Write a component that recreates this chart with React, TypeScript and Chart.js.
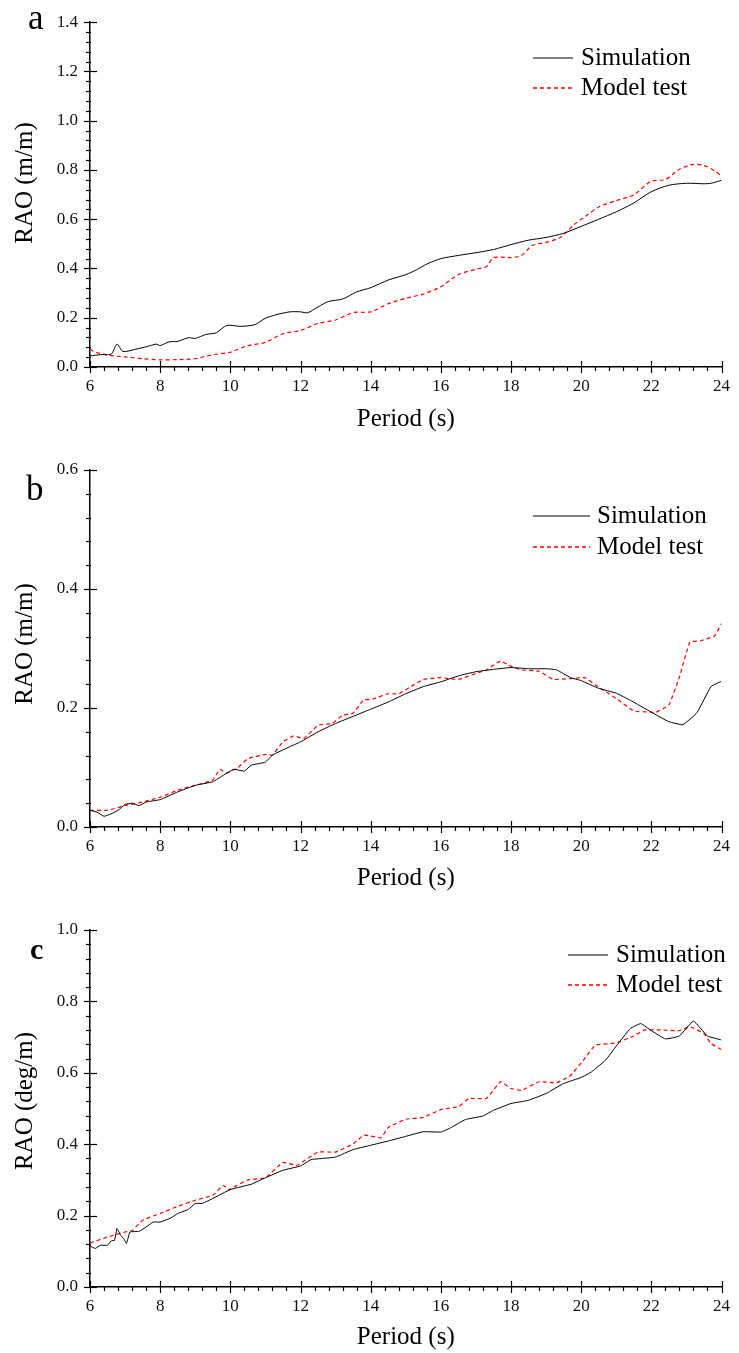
import React, { useEffect, useRef } from 'react';
import { Chart, registerables } from 'chart.js';

Chart.register(...registerables);

const FONT = '"Liberation Serif", "Times New Roman", serif';

// ---------- Panel a : RAO (m/m) ----------
const aSimPeriod = [6, 6.3, 6.5, 6.62, 6.77, 6.94, 7.3, 7.63, 7.88, 8.0, 8.25, 8.5, 8.8, 9.0, 9.3, 9.6, 9.9, 10.3, 10.7, 11.0, 11.3, 11.7, 12.0, 12.2, 12.5, 12.8, 13.2, 13.6, 14.0, 14.5, 15.0, 15.3, 15.6, 16.0, 16.5, 17.0, 17.5, 18.0, 18.5, 19.0, 19.5, 20.0, 20.5, 21.0, 21.5, 22.0, 22.5, 23.0, 23.5, 23.7, 24.0];
const aSimRAO = [0.045, 0.05, 0.05, 0.054, 0.093, 0.063, 0.072, 0.083, 0.093, 0.087, 0.102, 0.104, 0.119, 0.116, 0.132, 0.139, 0.169, 0.165, 0.172, 0.198, 0.212, 0.224, 0.224, 0.22, 0.244, 0.266, 0.276, 0.305, 0.322, 0.353, 0.375, 0.394, 0.418, 0.44, 0.453, 0.464, 0.477, 0.497, 0.515, 0.526, 0.543, 0.571, 0.6, 0.63, 0.666, 0.712, 0.738, 0.746, 0.744, 0.746, 0.758];
const aTestPeriod = [6, 6.1, 6.3, 6.66, 7.0, 7.5, 8.0, 8.5, 9.0, 9.5, 10.0, 10.5, 11.0, 11.5, 12.0, 12.5, 13.0, 13.5, 14.0, 14.5, 15.0, 15.5, 16.0, 16.5, 17.0, 17.3, 17.5, 18.0, 18.3, 18.6, 19.0, 19.4, 19.8, 20.2, 20.5, 21.0, 21.5, 22.0, 22.4, 22.8, 23.2, 23.5, 23.8, 24.0];
const aTestRAO = [0.073, 0.064, 0.054, 0.045, 0.041, 0.034, 0.029, 0.03, 0.034, 0.05, 0.06, 0.087, 0.1, 0.135, 0.148, 0.177, 0.191, 0.221, 0.224, 0.257, 0.279, 0.296, 0.326, 0.375, 0.397, 0.408, 0.444, 0.444, 0.453, 0.493, 0.506, 0.526, 0.578, 0.62, 0.65, 0.676, 0.699, 0.755, 0.761, 0.803, 0.823, 0.818, 0.797, 0.775];

// ---------- Panel b : RAO (m/m) ----------
const bSimPeriod = [6, 6.2, 6.4, 6.6, 6.8, 7.0, 7.2, 7.4, 7.6, 8.0, 8.5, 9.0, 9.5, 9.8, 10.1, 10.4, 10.6, 11.0, 11.2, 11.7, 12.0, 12.5, 13.0, 13.5, 14.0, 14.5, 15.0, 15.5, 16.0, 16.5, 17.0, 17.5, 18.0, 18.5, 19.0, 19.3, 19.7, 20.0, 20.5, 21.0, 21.4, 22.0, 22.5, 22.9, 23.3, 23.7, 24.0];
const bSimRAO = [0.028, 0.025, 0.018, 0.022, 0.028, 0.038, 0.04, 0.036, 0.042, 0.046, 0.059, 0.07, 0.076, 0.087, 0.097, 0.094, 0.104, 0.109, 0.121, 0.135, 0.143, 0.16, 0.174, 0.186, 0.198, 0.21, 0.224, 0.236, 0.244, 0.254, 0.261, 0.265, 0.268, 0.266, 0.266, 0.264, 0.251, 0.246, 0.233, 0.225, 0.213, 0.193, 0.177, 0.172, 0.192, 0.236, 0.245];
const bTestPeriod = [6, 6.5, 7.0, 7.5, 8.0, 8.5, 9.0, 9.5, 9.7, 9.9, 10.2, 10.5, 11.0, 11.2, 11.5, 11.8, 12.1, 12.5, 12.9, 13.2, 13.5, 13.8, 14.0, 14.5, 14.8, 15.2, 15.5, 16.0, 16.5, 17.0, 17.3, 17.7, 18.0, 18.3, 18.8, 19.2, 19.6, 20.1, 20.5, 21.0, 21.5, 22.0, 22.1, 22.5, 22.8, 23.1, 23.4, 23.8, 24.0];
const bTestRAO = [0.028, 0.028, 0.036, 0.042, 0.05, 0.062, 0.07, 0.079, 0.097, 0.091, 0.099, 0.115, 0.122, 0.121, 0.143, 0.153, 0.149, 0.171, 0.174, 0.188, 0.191, 0.214, 0.214, 0.224, 0.224, 0.238, 0.248, 0.251, 0.248, 0.258, 0.264, 0.279, 0.27, 0.264, 0.262, 0.248, 0.249, 0.251, 0.235, 0.216, 0.195, 0.193, 0.192, 0.205, 0.252, 0.311, 0.313, 0.321, 0.342];

// ---------- Panel c : RAO (deg/m) ----------
const cSimPeriod = [6, 6.15, 6.3, 6.5, 6.6, 6.7, 6.77, 6.87, 6.96, 7.04, 7.14, 7.4, 7.6, 7.8, 8.0, 8.3, 8.5, 8.8, 9.0, 9.2, 9.5, 10.0, 10.6, 11.0, 11.5, 12.0, 12.3, 12.5, 13.0, 13.5, 14.0, 14.5, 15.0, 15.5, 16.0, 16.3, 16.7, 17.2, 17.5, 18.0, 18.5, 19.0, 19.5, 20.0, 20.3, 20.7, 21.0, 21.4, 21.7, 22.0, 22.4, 22.8, 23.2, 23.6, 24.0];
const cSimRAO = [0.115, 0.108, 0.117, 0.117, 0.129, 0.131, 0.164, 0.145, 0.136, 0.122, 0.154, 0.156, 0.168, 0.182, 0.182, 0.193, 0.206, 0.217, 0.234, 0.234, 0.248, 0.273, 0.288, 0.306, 0.327, 0.339, 0.357, 0.359, 0.364, 0.385, 0.397, 0.409, 0.422, 0.435, 0.434, 0.447, 0.469, 0.479, 0.495, 0.514, 0.523, 0.542, 0.57, 0.587, 0.603, 0.636, 0.675, 0.724, 0.738, 0.718, 0.695, 0.703, 0.745, 0.703, 0.692];
const cTestPeriod = [6, 6.5, 7.0, 7.2, 7.5, 8.0, 8.5, 9.0, 9.5, 9.8, 9.95, 10.2, 10.5, 11.0, 11.5, 11.9, 12.5, 13.0, 13.5, 13.8, 14.0, 14.3, 14.5, 15.0, 15.5, 16.0, 16.5, 16.8, 17.3, 17.7, 18.0, 18.3, 18.8, 19.3, 19.7, 20.1, 20.4, 21.0, 21.5, 21.8, 22.3, 22.8, 23.1, 23.5, 23.7, 24.0];
const cTestRAO = [0.123, 0.14, 0.154, 0.158, 0.187, 0.206, 0.226, 0.243, 0.257, 0.285, 0.272, 0.285, 0.3, 0.306, 0.349, 0.341, 0.378, 0.378, 0.401, 0.425, 0.423, 0.418, 0.447, 0.47, 0.475, 0.497, 0.505, 0.528, 0.528, 0.575, 0.556, 0.551, 0.575, 0.572, 0.593, 0.64, 0.677, 0.684, 0.703, 0.72, 0.72, 0.718, 0.729, 0.71, 0.682, 0.665];

// ---------- Axis / labels ----------
const xTicksMin = 6;
const xTicksMax = 24;
const xMajorStep = 2;
const xMinorStep = 0.4;
const yMajorStep = 0.2;
const yMinorStep = 0.04;
const xTitle = 'Period (s)';
const seriesLabels = ['Simulation', 'Model test'];
const seriesColors = ['#000000', '#ff0000'];
const seriesDash: number[][] = [[], [4, 3]];

type PanelDef = {
  letter: string;
  letterFont: string;
  letterX: number;
  letterY: number;
  yTitle: string;
  yTitleCenter: number;
  yMax: number;
  simX: number[];
  simY: number[];
  testX: number[];
  testY: number[];
  tension: number;
  top: number;
  height: number;
  areaTop: number;
  areaBottom: number;
  titlePadBottom: number;
  legendLineX0: number;
  legendLineX1: number;
  legendTextX: number;
  legendY0: number;
  legendY1: number;
};

const PANELS: PanelDef[] = [
  {
    letter: 'a', letterFont: `35px ${FONT}`, letterX: 28, letterY: 29,
    yTitle: 'RAO (m/m)', yTitleCenter: 183, yMax: 1.4,
    simX: aSimPeriod, simY: aSimRAO, testX: aTestPeriod, testY: aTestRAO, tension: 0.25,
    top: 0, height: 445, areaTop: 11, areaBottom: 367, titlePadBottom: 11,
    legendLineX0: 533, legendLineX1: 573, legendTextX: 581, legendY0: 58, legendY1: 88,
  },
  {
    letter: 'b', letterFont: `35px ${FONT}`, letterX: 26, letterY: 500,
    yTitle: 'RAO (m/m)', yTitleCenter: 644, yMax: 0.6,
    simX: bSimPeriod, simY: bSimRAO, testX: bTestPeriod, testY: bTestRAO, tension: 0.1,
    top: 445, height: 460, areaTop: 470, areaBottom: 827, titlePadBottom: 12,
    legendLineX0: 533, legendLineX1: 590, legendTextX: 597, legendY0: 516, legendY1: 547,
  },
  {
    letter: 'c', letterFont: `bold 30px ${FONT}`, letterX: 30, letterY: 959,
    yTitle: 'RAO (deg/m)', yTitleCenter: 1101, yMax: 1.0,
    simX: cSimPeriod, simY: cSimRAO, testX: cTestPeriod, testY: cTestRAO, tension: 0.1,
    top: 905, height: 448, areaTop: 930, areaBottom: 1287, titlePadBottom: 1,
    legendLineX0: 568, legendLineX1: 608, legendTextX: 616, legendY0: 955, legendY1: 985,
  },
];

function zip(xs: number[], ys: number[]) {
  return xs.map((x, i) => ({ x, y: ys[i] }));
}

const decorPlugin = {
  id: 'decor',
  afterDraw(chart: any, _args: any, opts: any) {
    const p: PanelDef = opts.panel;
    const ctx = chart.ctx;
    const xs = chart.scales.x;
    const ys = chart.scales.y;
    const area = chart.chartArea;
    ctx.save();
    ctx.strokeStyle = '#000';
    ctx.lineWidth = 1.2;
    // y ticks
    const nY = Math.round(p.yMax / yMinorStep);
    const yRatio = Math.round(yMajorStep / yMinorStep);
    for (let i = 0; i <= nY; i++) {
      const v = i * yMinorStep;
      const py = Math.round(ys.getPixelForValue(v)) + 0.5;
      const major = i % yRatio === 0;
      ctx.beginPath();
      if (major) {
        ctx.moveTo(area.left - 6, py);
        ctx.lineTo(area.left + 7, py);
      } else {
        ctx.moveTo(area.left - 4, py);
        ctx.lineTo(area.left + 1, py);
      }
      ctx.stroke();
    }
    // x ticks
    const nX = Math.round((xTicksMax - xTicksMin) / xMinorStep);
    const xRatio = Math.round(xMajorStep / xMinorStep);
    for (let i = 0; i <= nX; i++) {
      const v = xTicksMin + i * xMinorStep;
      const px = Math.round(xs.getPixelForValue(v)) + 0.5;
      const major = i % xRatio === 0;
      ctx.beginPath();
      if (major) {
        ctx.moveTo(px, area.bottom - 6);
        ctx.lineTo(px, area.bottom + 6);
      } else {
        ctx.moveTo(px, area.bottom - 1);
        ctx.lineTo(px, area.bottom + 4);
      }
      ctx.stroke();
    }
    ctx.fillStyle = '#000';
    // y title
    ctx.save();
    ctx.translate(25, p.yTitleCenter - p.top);
    ctx.rotate(-Math.PI / 2);
    ctx.font = `25px ${FONT}`;
    ctx.textAlign = 'center';
    ctx.textBaseline = 'middle';
    ctx.fillText(p.yTitle, 0, 0);
    ctx.restore();
    // panel letter
    ctx.font = p.letterFont;
    ctx.textAlign = 'left';
    ctx.textBaseline = 'alphabetic';
    ctx.fillText(p.letter, p.letterX, p.letterY - p.top);
    // legend
    const dss = chart.data.datasets;
    const rows = [p.legendY0, p.legendY1];
    ctx.font = `25px ${FONT}`;
    ctx.textBaseline = 'middle';
    dss.forEach((ds: any, i: number) => {
      const y = rows[i] - p.top;
      ctx.beginPath();
      ctx.strokeStyle = seriesColors[i];
      ctx.lineWidth = i === 0 ? 1.2 : 1.6;
      ctx.setLineDash(seriesDash[i]);
      ctx.moveTo(p.legendLineX0, y);
      ctx.lineTo(p.legendLineX1, y);
      ctx.stroke();
      ctx.setLineDash([]);
      ctx.fillStyle = '#000';
      ctx.fillText(ds.label, p.legendTextX, rows[i] - p.top);
    });
    ctx.restore();
  },
};

function PanelChart({ p }: { p: PanelDef }) {
  const ref = useRef<HTMLCanvasElement | null>(null);
  useEffect(() => {
    if (!ref.current) return;
    const xScaleHeight = p.top + p.height - p.areaBottom;
    const chart = new Chart(ref.current, {
      type: 'line',
      data: {
        datasets: [
          {
            label: seriesLabels[0],
            data: zip(p.simX, p.simY),
            borderColor: seriesColors[0],
            borderWidth: 1,
            borderDash: seriesDash[0],
            pointRadius: 0,
            tension: p.tension,
            fill: false,
          },
          {
            label: seriesLabels[1],
            data: zip(p.testX, p.testY),
            borderColor: seriesColors[1],
            borderWidth: 1.2,
            borderDash: seriesDash[1],
            pointRadius: 0,
            tension: p.tension,
            fill: false,
          },
        ],
      },
      options: {
        animation: false,
        responsive: false,
        devicePixelRatio: 1,
        layout: { padding: { left: 0, right: 10, top: p.areaTop - p.top, bottom: 0 } },
        plugins: {
          legend: { display: false },
          tooltip: { enabled: false },
          decor: { panel: p },
        } as any,
        scales: {
          x: {
            type: 'linear',
            min: xTicksMin,
            max: xTicksMax,
            afterFit: (s: any) => { s.height = xScaleHeight; },
            ticks: {
              stepSize: xMajorStep,
              autoSkip: false,
              maxRotation: 0,
              minRotation: 0,
              padding: 9,
              color: '#111',
              font: { family: FONT, size: 17 },
              callback: (v: any) => String(v),
            },
            grid: { display: true, drawOnChartArea: false, drawTicks: false },
            border: { display: true, color: '#000', width: 1.5 },
            title: {
              display: true,
              text: xTitle,
              color: '#000',
              font: { family: FONT, size: 25 },
              padding: { top: 0, bottom: p.titlePadBottom },
            },
          },
          y: {
            type: 'linear',
            min: 0,
            max: p.yMax,
            afterFit: (s: any) => { s.width = 90; },
            ticks: {
              stepSize: yMajorStep,
              padding: 12,
              color: '#111',
              font: { family: FONT, size: 17 },
              callback: (v: any) => Number(v).toFixed(1),
            },
            grid: { display: true, drawOnChartArea: false, drawTicks: false },
            border: { display: true, color: '#000', width: 1.5 },
            title: { display: false, text: p.yTitle },
          },
        },
      },
      plugins: [decorPlugin],
    } as any);
    return () => chart.destroy();
  }, [p]);
  return (
    <canvas
      ref={ref}
      width={739}
      height={p.height}
      style={{ position: 'absolute', left: 0, top: p.top, width: 739, height: p.height }}
    />
  );
}

export default function App() {
  return (
    <div style={{ position: 'absolute', left: 0, top: 0, width: 739, height: 1353, background: '#fff' }}>
      {PANELS.map((p) => (
        <PanelChart key={p.letter} p={p} />
      ))}
    </div>
  );
}
